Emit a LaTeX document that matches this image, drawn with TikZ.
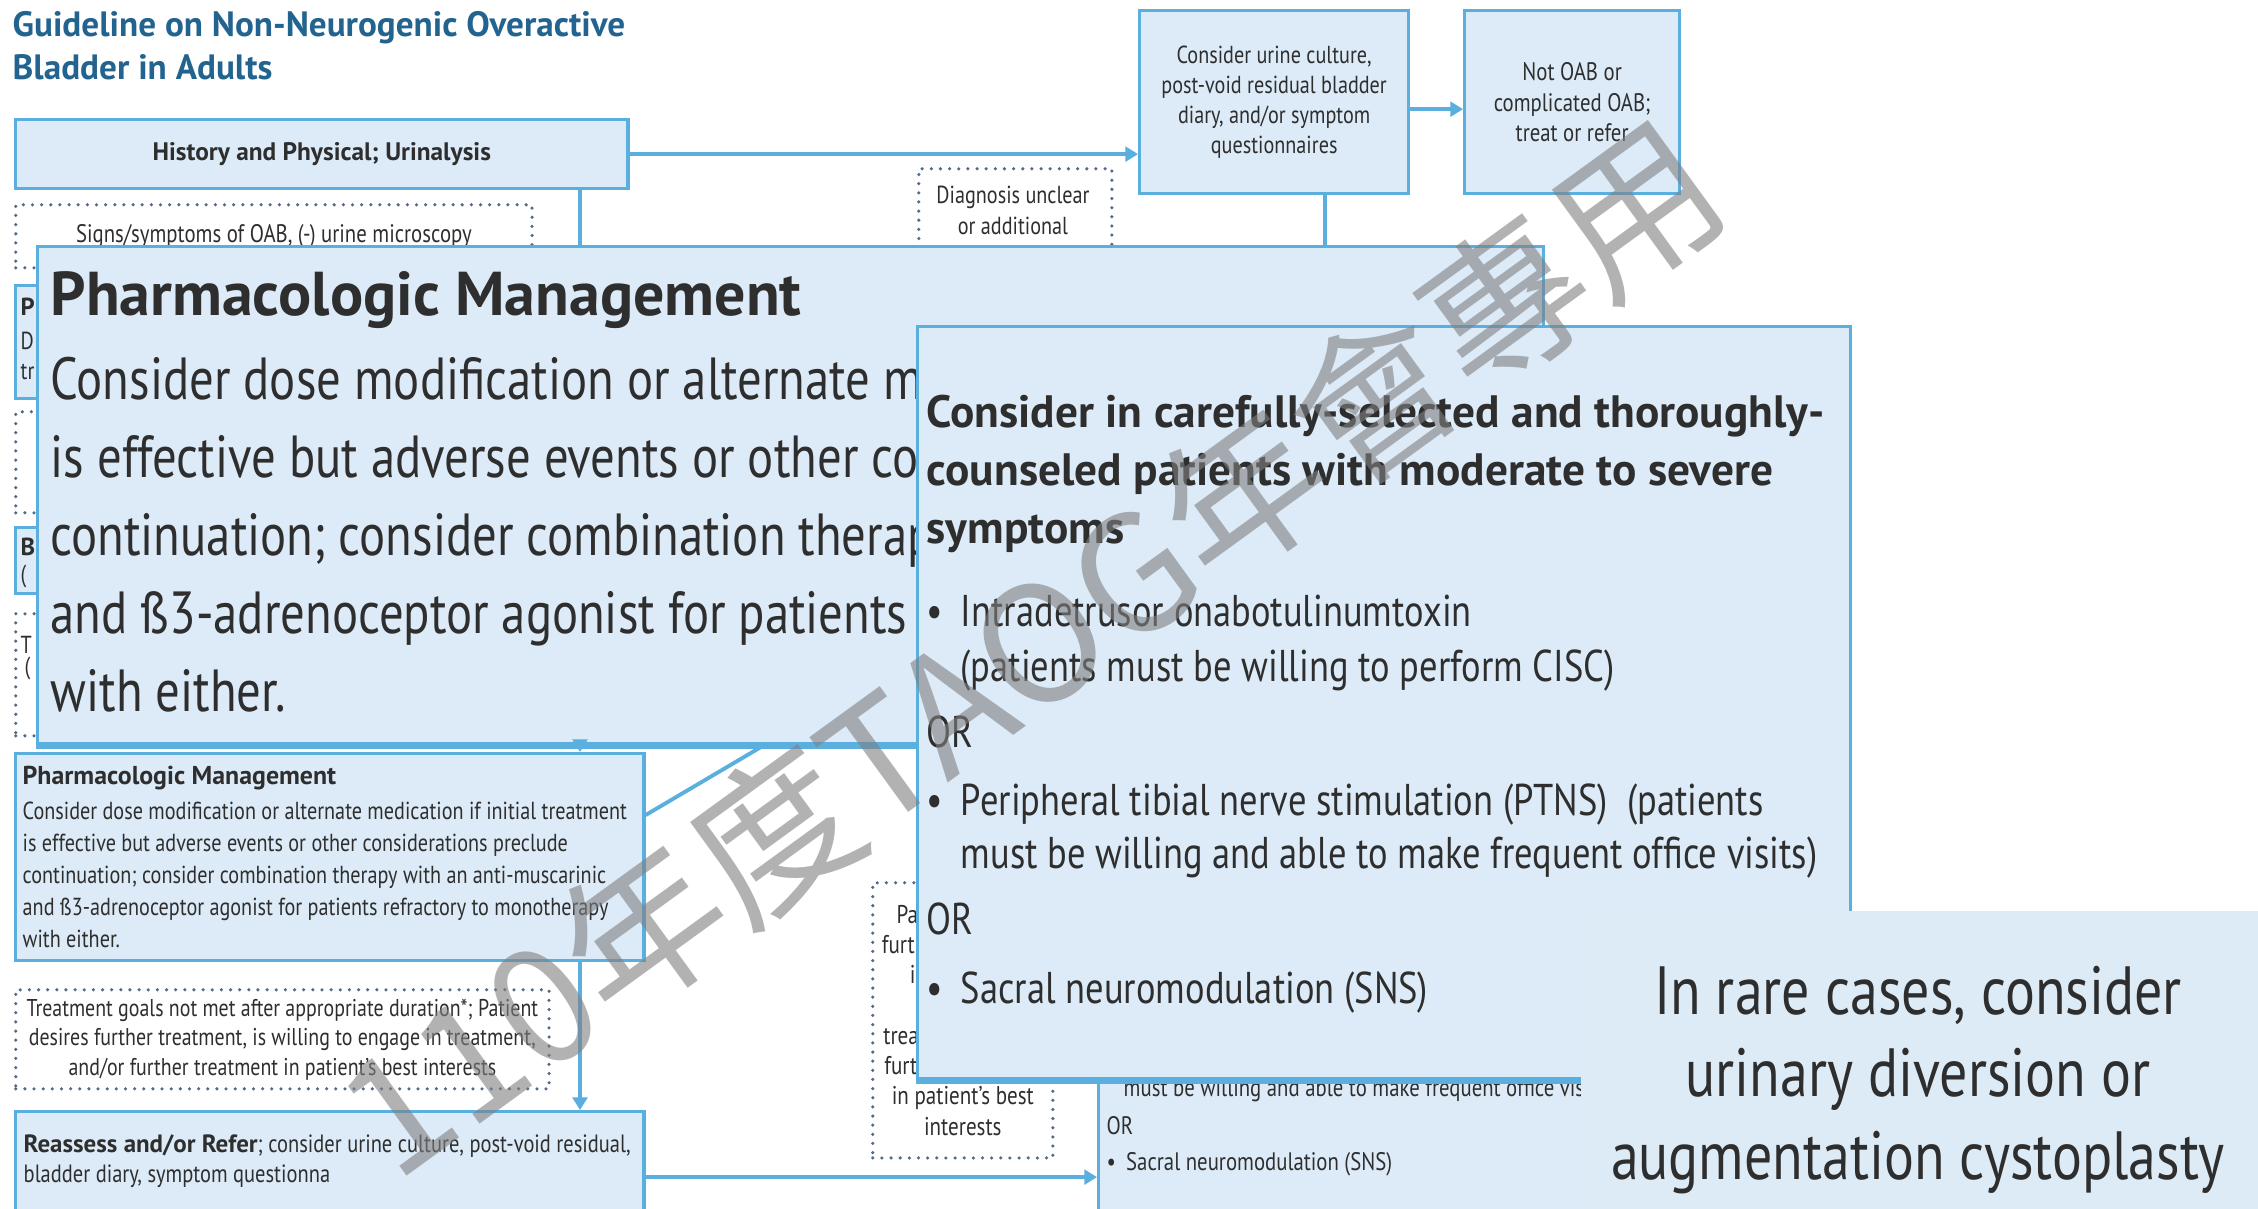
\documentclass[tikz,border=0pt]{standalone}
\usepackage{fontspec}
\setmainfont{PT Sans}[FakeStretch=0.82,BoldFeatures={FakeStretch=1}]
\newfontfamily\wmfont{Noto Sans CJK TC}
\usetikzlibrary{arrows.meta, positioning, calc}
\definecolor{oabfill}{HTML}{DCEBF7}
\definecolor{oabline}{HTML}{5AAFDF}
\definecolor{oabink}{HTML}{2E2E2E}
\definecolor{oabtitle}{HTML}{22648F}
\definecolor{oabdot}{HTML}{506A88}
\definecolor{rarefill}{HTML}{DDEBF6}
\newcommand\fsz[2]{\fontsize{#1pt}{#2pt}\selectfont}
\newcommand\bul{\textbullet\hspace{0.4em}}
\newcommand\pmtext{Consider dose modification or alternate medication if initial treatment\\
is effective but adverse events or other considerations preclude\\
continuation; consider combination therapy with an anti-muscarinic\\
and ß3-adrenoceptor agonist for patients refractory to monotherapy\\
with either.}
\tikzset{
  oabbox/.style={draw=oabline, fill=oabfill, line width=0.9pt, anchor=north west,
                 inner sep=0pt, text=oabink},
  dotbox/.style={draw=oabdot, line width=1pt, dash pattern=on 0pt off 2.6pt,
                 line cap=round, anchor=north west, inner sep=0pt, text=oabink},
  txt/.style={inner sep=0pt, text=oabink, align=left, anchor=west},
  selline/.style={txt, font=\fsz{12.65}{14}, text height=9.5pt, text depth=2.8pt},
  link/.style={draw=oabline, line width=1.1pt},
  arr/.style={link, -{Triangle[width=4.2pt,length=3.6pt]}},
}

\begin{document}
\begin{tikzpicture}[x=0.01cm, y=-0.01cm]
\useasboundingbox (0,0) rectangle (2258,1208);
\fill[white] (0,0) rectangle (2258,1208);

% underlying flowchart
\node[txt, text=oabtitle, font=\bfseries\fsz{10}{12.3}] (title) at (12,46)
  {Guideline on Non-Neurogenic Overactive\\Bladder in Adults};
\node[oabbox, minimum width=6.12cm, minimum height=0.69cm, font=\bfseries\fsz{7.2}{8}]
  (hist) at (14,118) {History and Physical; Urinalysis};
\node[oabbox, minimum width=2.69cm, minimum height=1.83cm, align=center, font=\fsz{7}{8.5}]
  (cons) at (1138,9) {Consider urine culture,\\post-void residual bladder\\diary, and/or symptom\\questionnaires};
\node[oabbox, minimum width=2.15cm, minimum height=1.83cm, align=center, font=\fsz{7.2}{8.6}]
  (notoab) at (1463,9) {Not OAB or\\complicated OAB;\\treat or refer};
\node[dotbox, minimum width=1.93cm, minimum height=1.2cm] (unclear) at (917,167) {};
\node[txt, anchor=center, align=center, font=\fsz{7}{8.8}] (uncleartxt) at (1013,210)
  {Diagnosis unclear\\or additional};
\node[dotbox, minimum width=5.16cm, minimum height=0.63cm, font=\fsz{7.2}{8}]
  (signs) at (14,203) {Signs/symptoms of OAB, (-) urine microscopy};

\coordinate (spine) at (580,0);
\coordinate (hdrop) at (580,260);
\coordinate (cdrop) at (1325,260);
\draw[arr] (hist.east) -- (hist.east -| cons.west);
\draw[arr] ([yshift=-2pt]cons.east) -- ([yshift=-2pt]notoab.west);
\draw[link] (hist.south -| hdrop) -- (hdrop);
\draw[link] (cons.south -| cdrop) -- (cdrop);

% stubs left of the enlarged box
\node[oabbox, minimum width=3cm, minimum height=1.13cm] (pstub) at (14,284) {};
\node[txt, font=\bfseries\fsz{7}{8}] (pstubA) at (20,307) {P};
\node[txt, font=\fsz{7}{8}] (pstubB) at (20,341) {D};
\node[txt, font=\fsz{7}{8}] (pstubC) at (20,372) {tr};
\node[dotbox, minimum width=3cm, minimum height=1.01cm] (dstubA) at (14,410) {};
\node[oabbox, minimum width=3cm, minimum height=0.66cm] (bstub) at (14,526) {};
\node[txt, font=\bfseries\fsz{7}{8}] (bstubA) at (20,547) {B};
\node[txt, font=\fsz{7}{8}] (bstubB) at (20,576) {(};
\node[dotbox, minimum width=3cm, minimum height=1.22cm] (dstubB) at (14,612) {};
\node[txt, font=\fsz{7}{8}] (dstubBA) at (20,645) {T};
\node[txt, font=\fsz{7}{8}] (dstubBB) at (24,668) {(};

\node[oabbox, minimum width=6.28cm, minimum height=2.07cm] (smallpm) at (14,752) {};
\node[txt, font=\bfseries\fsz{7.35}{8.6}] (smallpmtitle) at (22,778) {Pharmacologic Management};
\node[txt, font=\fsz{7}{9.1}] (smallpmbody) at (22,875) {\pmtext};
\coordinate (diagend) at (800,724);
\draw[link] ($(smallpm.north east)!0.3!(smallpm.south east)$) -- (diagend);

\node[dotbox, minimum width=5.33cm, minimum height=0.99cm, align=center, font=\fsz{6.9}{8.4}]
  (goals) at (14,988) {Treatment goals not met after appropriate duration*; Patient\\
  desires further treatment, is willing to engage in treatment,\\
  and/or further treatment in patient’s best interests};
\node[oabbox, minimum width=6.28cm, minimum height=1.05cm] (reas) at (14,1110) {};
\node[txt, font=\fsz{7.1}{8.6}] (reastxt) at (23,1161)
  {\textbf{Reassess and/or Refer}; consider urine culture, post-void residual,\\
  bladder diary, symptom questionna};
\draw[arr] (smallpm.south -| spine) -- (reas.north -| spine);

\node[dotbox, minimum width=1.80cm, minimum height=2.75cm, align=center, font=\fsz{7.3}{8.6}]
  (further) at (871,881) {Patient desires\\further treatment,\\is willing to\\engage in\\
  treatment, and/or\\further treatment\\in patient’s best\\interests};
\node[oabbox, minimum width=5cm, minimum height=2.3cm] (copybox) at (1097,1000) {};
\node[txt, font=\fsz{7.2}{8}] (copyA) at (1123,1090) {must be willing and able to make frequent office visits)};
\node[txt, font=\fsz{7.2}{8}] (copyB) at (1106,1126) {OR};
\node[txt, font=\fsz{7.2}{8}] (copyC) at (1106,1164) {\bul Sacral neuromodulation (SNS)};
\coordinate (reasout) at ($(reas.north east)!0.62!(reas.south east)$);
\draw[arr] (reasout) -- (reasout -| copybox.west);

% enlarged pharmacologic box
\node[oabbox, minimum width=15.05cm, minimum height=4.97cm] (bigpm) at (36,245) {};
\draw[oabline, line width=2pt] (bigpm.south west) -- (bigpm.south east);
\draw[arr] (bigpm.south -| spine) -- (smallpm.north -| spine);
\node[txt, font=\bfseries\fsz{17.6}{20}] (bigpmtitle) at (50,300) {Pharmacologic Management};
\node[txt, font=\fsz{16.9}{22.2}] (bigpmbody) at (50,535) {\pmtext};

% enlarged third-line box
\node[oabbox, minimum width=9.32cm, minimum height=7.52cm] (sel) at (916,325) {};
\draw[oabline, line width=2pt] (sel.south west) -- (sel.south east);
\node[txt, font=\bfseries\fsz{12.9}{16.4}] (seltitle) at (926,474)
  {Consider in carefully-selected and thoroughly-\\counseled patients with moderate to severe\\symptoms};
\node[selline] (botox) at (926,615) {\bul Intradetrusor onabotulinumtoxin};
\node[selline] (cisc) at (960,670) {(patients must be willing to perform CISC)};
\node[selline] (orA) at (926,736) {OR};
\node[selline] (ptns) at (926,804) {\bul Peripheral tibial nerve stimulation (PTNS)~~(patients};
\node[selline] (visits) at (960,857) {must be willing and able to make frequent office visits)};
\node[selline] (orB) at (926,923) {OR};
\node[selline] (sns) at (926,992) {\bul Sacral neuromodulation (SNS)};

% rare cases
\node[fill=rarefill, minimum width=6.78cm, minimum height=3.1cm, anchor=north west, inner sep=0pt]
  (rare) at (1580,910) {};
\node[txt, anchor=center, align=center, font=\fsz{19.4}{23.4}] (raretxt) at (1918,1080)
  {In rare cases, consider\\urinary diversion or\\augmentation cystoplasty};

% watermark
\node[rotate=36, text=gray, text opacity=0.6, font=\wmfont\fsz{46}{50}, inner sep=0pt]
  (wm) at (1030,648) {110年度TAOG年會專用};
\end{tikzpicture}
\end{document}
